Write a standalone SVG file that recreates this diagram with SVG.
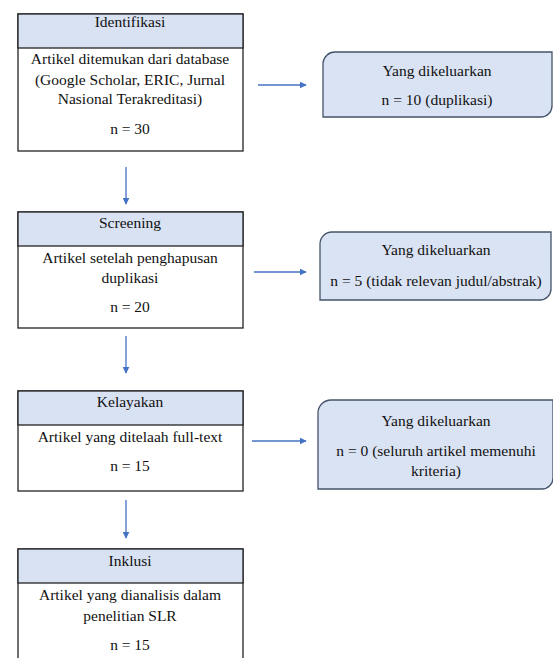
<svg xmlns="http://www.w3.org/2000/svg" width="553" height="658" viewBox="0 0 553 658">
<style>
.box{fill:#fff;stroke:#222;stroke-width:1.3}
.hdr{fill:#D9E2F3;stroke:#222;stroke-width:1.3}
.ex{fill:#DAE3F3;stroke:#44546A;stroke-width:1.3}
.t{font-family:"Liberation Serif","Times New Roman",serif;font-size:15.5px;fill:#111;text-anchor:middle}
.c{stroke:#4472C4;stroke-width:1.3;fill:none;marker-end:url(#ah)}
</style>
<defs>
<marker id="ah" viewBox="0 0 10 10" refX="9" refY="5" markerWidth="7" markerHeight="7" markerUnits="userSpaceOnUse" orient="auto">
<path d="M0,0 L10,5 L0,10 z" fill="#4472C4"/>
</marker>
</defs>
<rect width="553" height="658" fill="#fff"/>
<g id="identifikasi">
<rect class="box" x="18" y="14" width="225" height="137"/>
<rect class="hdr" x="18" y="14" width="225" height="34"/>
<text class="t" x="130" y="27">Identifikasi</text>
<text class="t" x="130" y="64">Artikel ditemukan dari database</text>
<text class="t" x="130" y="85">(Google Scholar, ERIC, Jurnal</text>
<text class="t" x="130" y="104">Nasional Terakreditasi)</text>
<text class="t" x="130" y="134">n = 30</text>
</g>
<g id="screening">
<rect class="box" x="18" y="212" width="225" height="116"/>
<rect class="hdr" x="18" y="212" width="225" height="34"/>
<text class="t" x="130" y="228">Screening</text>
<text class="t" x="130" y="263">Artikel setelah penghapusan</text>
<text class="t" x="130" y="283">duplikasi</text>
<text class="t" x="130" y="312">n = 20</text>
</g>
<g id="kelayakan">
<rect class="box" x="18" y="391" width="225" height="100"/>
<rect class="hdr" x="18" y="391" width="225" height="34"/>
<text class="t" x="130" y="407">Kelayakan</text>
<text class="t" x="130" y="442">Artikel yang ditelaah full-text</text>
<text class="t" x="130" y="471">n = 15</text>
</g>
<g id="inklusi">
<rect class="box" x="18" y="549" width="225" height="115"/>
<rect class="hdr" x="18" y="549" width="225" height="34"/>
<text class="t" x="130" y="566">Inklusi</text>
<text class="t" x="130" y="600">Artikel yang dianalisis dalam</text>
<text class="t" x="130" y="621">penelitian SLR</text>
<text class="t" x="130" y="650">n = 15</text>
</g>
<g id="excl1">
<path class="ex" d="M335,52 H552 V106 A11,11 0 0 1 541,117 H323 V63 A12,12 0 0 1 335,52 Z"/>
<text class="t" x="437" y="76">Yang dikeluarkan</text>
<text class="t" x="437" y="105">n = 10 (duplikasi)</text>
</g>
<g id="excl2">
<path class="ex" d="M332,232 H551 V289 A11,11 0 0 1 540,300 H320 V244 A12,12 0 0 1 332,232 Z"/>
<text class="t" x="436" y="255">Yang dikeluarkan</text>
<text class="t" x="436" y="286">n = 5 (tidak relevan judul/abstrak)</text>
</g>
<g id="excl3">
<path class="ex" d="M331,400 H553 V478 A11,11 0 0 1 542,489 H318 V413 A13,13 0 0 1 331,400 Z"/>
<text class="t" x="436" y="426">Yang dikeluarkan</text>
<text class="t" x="436" y="456">n = 0 (seluruh artikel memenuhi</text>
<text class="t" x="436" y="476">kriteria)</text>
</g>
<g id="connectors">
<line class="c" x1="258" y1="85" x2="306" y2="85"/>
<line class="c" x1="254" y1="272" x2="306" y2="272"/>
<line class="c" x1="252" y1="441" x2="306" y2="441"/>
<line class="c" x1="126" y1="167" x2="126" y2="204"/>
<line class="c" x1="126" y1="336" x2="126" y2="373"/>
<line class="c" x1="126" y1="500" x2="126" y2="538"/>
</g>
</svg>
